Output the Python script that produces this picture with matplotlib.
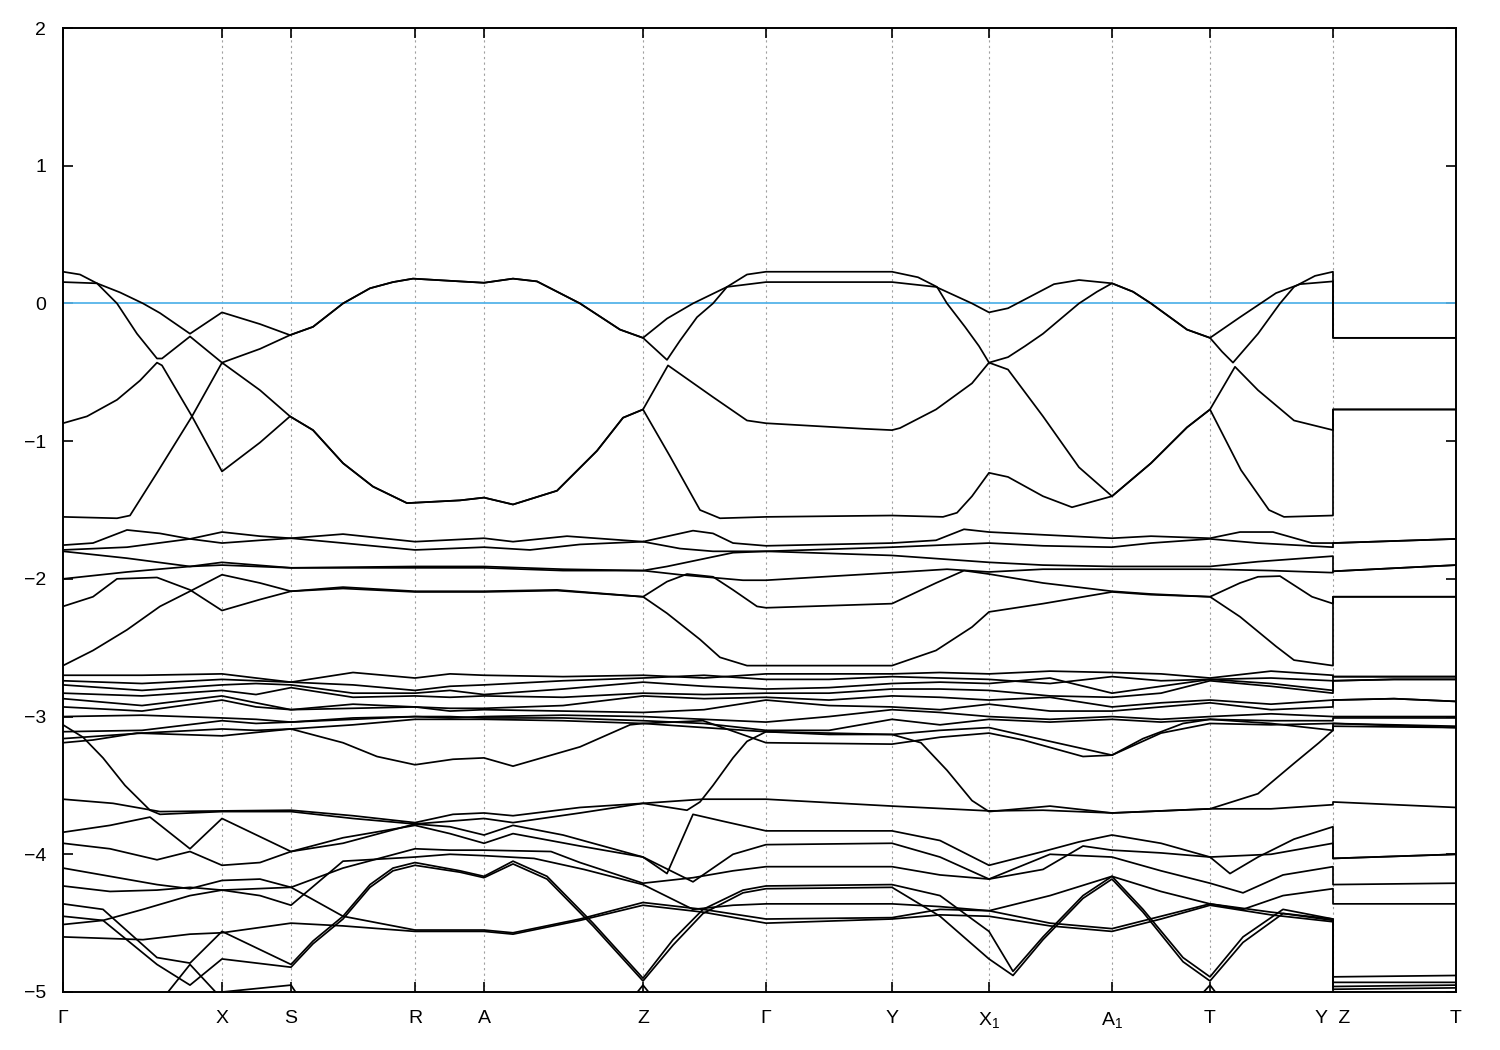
import numpy as np
import matplotlib
matplotlib.use("Agg")
import matplotlib.pyplot as plt

# high-symmetry points (path coordinate) and labels
hsp_k = [0.0, 1.59, 2.28, 3.52, 4.21, 5.80, 7.03, 8.29, 9.26, 10.49, 11.47, 12.70, 13.93]
hsp_labels = ["Γ", "X", "S", "R", "A", "Z", "Γ", "Y", "X$_1$", "A$_1$", "T", "Y  Z", "T"]
e_fermi = 0.0

# ---- upper valence bands (k, E) ----
band_c1 = [(0,0.155),(0.34,0.146),(0.57,0.08),(0.80,0.0),(0.97,-0.07),(1.27,-0.22),(1.59,-0.065),(1.97,-0.15),(2.27,-0.23),
           (2.50,-0.17),(2.80,0.0),(3.07,0.11),(3.30,0.155),(3.50,0.18),(3.97,0.16),(4.21,0.15),(4.50,0.18),(4.74,0.16),(5.17,0.0),
           (5.57,-0.19),(5.80,-0.25),(6.04,-0.11),(6.30,0.0),(6.64,0.12),(7.03,0.155),(8.29,0.155),(8.73,0.12),(9.09,0.0),(9.26,-0.065),
           (9.45,-0.035),(9.91,0.14),(10.16,0.17),(10.49,0.146),(10.70,0.085),(10.88,0.0),(11.24,-0.19),(11.47,-0.25),(11.77,-0.10),
           (12.13,0.075),(12.37,0.14),(12.70,0.16),(12.70,-0.25),(13.93,-0.25)]
band_c2 = [(0,0.23),(0.17,0.21),(0.34,0.146),(0.54,0.0),(0.74,-0.22),(0.94,-0.40),(0.99,-0.40),(1.27,-0.24),(1.59,-0.43),(1.97,-0.63),
           (2.27,-0.82),(2.50,-0.92),(2.80,-1.16),(3.10,-1.33),(3.44,-1.45),(3.97,-1.43),(4.21,-1.41),(4.50,-1.46),(4.94,-1.36),(5.34,-1.07),
           (5.60,-0.83),(5.80,-0.77),(6.05,-0.45),(6.50,-0.68),(6.84,-0.85),(7.03,-0.87),(8.00,-0.91),(8.29,-0.92),(8.37,-0.905),(8.73,-0.77),
           (9.09,-0.58),(9.26,-0.43),(9.45,-0.39),(9.62,-0.31),(9.80,-0.22),(9.98,-0.11),(10.16,0.0),(10.34,0.085),(10.49,0.146),(10.70,0.085),
           (10.88,0.0),(11.24,-0.19),(11.47,-0.25),(11.59,-0.35),(11.70,-0.43),(11.95,-0.22),(12.17,0.0),(12.31,0.12),(12.52,0.20),(12.70,0.23),
           (12.70,-0.25),(13.93,-0.25)]
band_c3 = [(0,-0.87),(0.24,-0.82),(0.54,-0.70),(0.77,-0.56),(0.94,-0.43),(0.99,-0.45),(1.29,-0.82),(1.59,-1.22),(1.97,-1.01),(2.27,-0.82),
           (2.50,-0.92),(2.80,-1.16),(3.10,-1.33),(3.44,-1.45),(3.97,-1.43),(4.21,-1.41),(4.50,-1.46),(4.94,-1.36),(5.34,-1.07),(5.60,-0.83),
           (5.80,-0.77),(6.07,-1.11),(6.37,-1.50),(6.57,-1.56),(7.03,-1.55),(8.29,-1.54),(8.80,-1.55),(8.94,-1.52),(9.09,-1.40),(9.26,-1.23),
           (9.45,-1.26),(9.80,-1.40),(10.09,-1.48),(10.49,-1.40),(10.88,-1.16),(11.24,-0.90),(11.47,-0.77),(11.72,-0.46),(11.95,-0.63),
           (12.31,-0.85),(12.70,-0.92),(12.70,-0.77),(13.93,-0.77)]
band_c4 = [(0,-1.55),(0.54,-1.56),(0.67,-1.54),(0.94,-1.23),(1.29,-0.82),(1.59,-0.43),(1.97,-0.33),(2.27,-0.23),(2.50,-0.17),(2.80,0.0),
           (3.07,0.11),(3.30,0.155),(3.50,0.18),(3.97,0.16),(4.21,0.15),(4.50,0.18),(4.74,0.16),(5.17,0.0),(5.57,-0.19),(5.80,-0.25),
           (6.04,-0.41),(6.17,-0.27),(6.34,-0.10),(6.50,0.0),(6.64,0.12),(6.84,0.21),(7.03,0.23),(8.29,0.23),(8.55,0.19),(8.74,0.12),
           (8.84,0.0),(9.02,-0.17),(9.16,-0.31),(9.26,-0.43),(9.45,-0.48),(9.80,-0.82),(10.16,-1.19),(10.49,-1.40),(10.88,-1.16),
           (11.24,-0.90),(11.47,-0.77),(11.78,-1.21),(12.06,-1.50),(12.21,-1.55),(12.70,-1.54),(12.70,-0.77),(13.93,-0.77)]

# ---- bands between -1.6 and -2.7 ----
band_d1 = [(0,-1.755),(0.30,-1.74),(0.64,-1.645),(0.97,-1.67),(1.27,-1.71),(1.59,-1.74),(1.97,-1.72),(2.28,-1.705),(2.80,-1.675),
           (3.52,-1.73),(4.21,-1.705),(4.50,-1.73),(5.04,-1.69),(5.80,-1.73),(6.30,-1.65),(6.50,-1.67),(6.70,-1.74),(7.03,-1.76),
           (8.29,-1.74),(8.73,-1.72),(9.01,-1.64),(9.26,-1.66),(9.80,-1.68),(10.49,-1.705),(10.88,-1.69),(11.47,-1.705),(11.77,-1.66),
           (12.10,-1.66),(12.49,-1.74),(12.70,-1.74),(12.70,-1.74),(13.93,-1.71)]
band_d2 = [(0,-1.79),(0.64,-1.77),(1.27,-1.71),(1.59,-1.66),(1.97,-1.69),(2.28,-1.705),(2.80,-1.74),(3.52,-1.79),(4.21,-1.77),
           (4.67,-1.79),(5.17,-1.75),(5.80,-1.73),(6.17,-1.78),(6.50,-1.80),(7.03,-1.80),(8.29,-1.77),(9.26,-1.74),(9.80,-1.76),
           (10.49,-1.77),(10.88,-1.74),(11.47,-1.71),(11.95,-1.74),(12.70,-1.77),(12.70,-1.74),(13.93,-1.71)]
band_d3 = [(0,-1.80),(0.64,-1.85),(1.27,-1.91),(1.59,-1.88),(2.28,-1.92),(3.52,-1.91),(4.21,-1.91),(5.00,-1.93),(5.80,-1.94),
           (6.04,-1.91),(6.37,-1.86),(6.70,-1.81),(7.03,-1.80),(8.29,-1.83),(9.26,-1.88),(9.80,-1.90),(10.49,-1.91),(11.47,-1.91),
           (11.95,-1.875),(12.70,-1.835),(12.70,-1.945),(13.93,-1.90)]
band_d4 = [(0,-2.0),(0.64,-1.95),(1.27,-1.91),(1.59,-1.90),(2.28,-1.92),(3.52,-1.92),(4.21,-1.92),(5.00,-1.94),(5.80,-1.94),
           (6.17,-1.97),(6.80,-2.01),(7.03,-2.01),(8.29,-1.955),(8.84,-1.93),(9.26,-1.95),(9.80,-1.93),(10.49,-1.93),(11.47,-1.93),
           (12.08,-1.94),(12.70,-1.955),(12.70,-1.945),(13.93,-1.90)]
band_d5 = [(0,-2.20),(0.30,-2.13),(0.54,-2.0),(0.94,-1.99),(1.27,-2.08),(1.59,-2.23),(1.97,-2.15),(2.28,-2.09),(2.80,-2.06),
           (3.52,-2.09),(4.21,-2.09),(4.94,-2.08),(5.80,-2.13),(6.04,-2.02),(6.24,-1.965),(6.50,-1.985),(6.70,-2.08),(6.94,-2.20),
           (7.03,-2.21),(8.29,-2.18),(8.73,-2.03),(9.01,-1.94),(9.26,-1.965),(9.80,-2.03),(10.49,-2.09),(10.88,-2.11),(11.47,-2.13),
           (11.77,-2.03),(11.95,-1.985),(12.17,-1.98),(12.49,-2.13),(12.70,-2.18),(12.70,-2.13),(13.93,-2.13)]
band_d6 = [(0,-2.63),(0.30,-2.52),(0.64,-2.37),(0.97,-2.20),(1.27,-2.09),(1.59,-1.97),(1.97,-2.03),(2.28,-2.09),(2.80,-2.07),
           (3.52,-2.095),(4.21,-2.095),(4.94,-2.085),(5.80,-2.13),(6.04,-2.25),(6.37,-2.44),(6.57,-2.57),(6.84,-2.63),(7.03,-2.63),
           (8.29,-2.63),(8.73,-2.52),(9.09,-2.35),(9.26,-2.24),(9.80,-2.18),(10.49,-2.095),(10.88,-2.115),(11.47,-2.13),(11.77,-2.275),
           (12.13,-2.49),(12.31,-2.59),(12.70,-2.63),(12.70,-2.13),(13.93,-2.13)]

# ---- dense bands between -2.7 and -3.2 on a common k grid ----
grid_e = [0, 0.79, 1.59, 1.93, 2.28, 2.90, 3.52, 3.87, 4.21, 5.00, 5.80, 6.41, 7.03, 7.66, 8.29, 8.77, 9.26, 9.87, 10.49,
          10.98, 11.47, 12.08, 12.70, 12.70, 13.31, 13.93]
band_e1 = [-2.70,-2.70,-2.69,-2.72,-2.75,-2.68,-2.72,-2.69,-2.70,-2.71,-2.70,-2.72,-2.69,-2.69,-2.69,-2.68,-2.69,-2.67,-2.68,-2.69,-2.72,-2.67,-2.70,-2.71,-2.71,-2.71]
band_e2 = [-2.74,-2.76,-2.73,-2.74,-2.75,-2.77,-2.81,-2.78,-2.77,-2.74,-2.72,-2.70,-2.73,-2.73,-2.71,-2.72,-2.73,-2.76,-2.71,-2.74,-2.73,-2.72,-2.74,-2.71,-2.71,-2.71]
band_e3 = [-2.77,-2.81,-2.77,-2.76,-2.77,-2.83,-2.83,-2.81,-2.84,-2.80,-2.75,-2.78,-2.80,-2.79,-2.76,-2.75,-2.76,-2.72,-2.83,-2.78,-2.73,-2.76,-2.81,-2.74,-2.73,-2.73]
band_e4 = [-2.83,-2.85,-2.81,-2.84,-2.79,-2.86,-2.85,-2.86,-2.85,-2.86,-2.83,-2.84,-2.83,-2.83,-2.80,-2.80,-2.81,-2.85,-2.86,-2.83,-2.74,-2.78,-2.83,-2.74,-2.73,-2.73]
band_e5 = [-2.87,-2.92,-2.85,-2.90,-2.95,-2.91,-2.93,-2.94,-2.94,-2.92,-2.85,-2.87,-2.86,-2.88,-2.85,-2.86,-2.88,-2.86,-2.93,-2.90,-2.88,-2.91,-2.88,-2.88,-2.87,-2.89]
band_e6 = [-2.93,-2.96,-2.88,-2.93,-2.95,-2.94,-2.93,-2.96,-2.95,-2.96,-2.97,-2.95,-2.88,-2.92,-2.93,-2.95,-2.91,-2.96,-2.96,-2.93,-2.90,-2.95,-2.93,-2.88,-2.87,-2.89]
band_e7 = [-3.00,-2.99,-3.01,-3.02,-3.04,-3.02,-3.00,-3.01,-3.00,-2.99,-3.00,-3.02,-3.04,-3.00,-2.95,-2.97,-3.00,-3.02,-3.00,-3.02,-3.00,-2.98,-3.00,-3.00,-3.00,-3.00]
band_e8 = [-3.11,-3.10,-3.03,-3.05,-3.04,-3.01,-3.00,-3.00,-3.01,-3.01,-3.03,-3.05,-3.10,-3.10,-3.02,-3.06,-3.02,-3.04,-3.02,-3.04,-3.02,-3.03,-3.03,-3.01,-3.01,-3.01]
band_e9 = [-3.16,-3.12,-3.09,-3.10,-3.09,-3.06,-3.02,-3.02,-3.02,-3.03,-3.05,-3.08,-3.11,-3.13,-3.13,-3.10,-3.08,-3.18,-3.28,-3.12,-3.05,-3.06,-3.05,-3.05,-3.06,-3.07]
band_e_low = [(0,-3.19),(0.30,-3.17),(0.74,-3.12),(1.59,-3.14),(2.28,-3.09),(2.80,-3.19),(3.14,-3.29),(3.52,-3.35),(3.90,-3.31),
              (4.21,-3.30),(4.50,-3.36),(5.17,-3.22),(5.67,-3.06),(5.80,-3.05),(6.40,-3.03),(7.03,-3.19),(8.29,-3.20),(8.77,-3.15),
              (9.26,-3.12),(9.60,-3.17),(10.20,-3.29),(10.49,-3.28),(10.80,-3.16),(11.20,-3.05),(11.47,-3.02),(12.08,-3.05),
              (12.70,-3.10),(12.70,-3.07),(13.93,-3.08)]

# ---- lower bands (-3.5 to -5) ----
band_f1 = [(0,-3.60),(0.50,-3.63),(0.97,-3.69),(1.59,-3.685),(2.28,-3.68),(2.90,-3.72),(3.52,-3.77),(3.90,-3.71),(4.21,-3.70),
           (4.50,-3.72),(5.17,-3.66),(5.80,-3.63),(6.40,-3.60),(7.03,-3.60),(8.29,-3.65),(9.26,-3.685),(9.80,-3.68),(10.49,-3.70),
           (11.47,-3.67),(12.08,-3.67),(12.70,-3.64),(12.70,-3.62),(13.93,-3.66)]
band_f2 = [(0,-3.06),(0.20,-3.15),(0.40,-3.30),(0.62,-3.50),(0.87,-3.68),(0.97,-3.71),(1.27,-3.70),(1.59,-3.69),(2.28,-3.69),
           (2.90,-3.74),(3.52,-3.78),(4.21,-3.74),(4.50,-3.77),(5.17,-3.70),(5.80,-3.63),(6.24,-3.68),(6.37,-3.62),(6.50,-3.50),
           (6.70,-3.30),(6.84,-3.18),(7.03,-3.11),(8.29,-3.13),(8.58,-3.19),(8.84,-3.39),(9.09,-3.61),(9.26,-3.69),(9.87,-3.65),
           (10.49,-3.70),(11.47,-3.67),(11.95,-3.56),(12.31,-3.34),(12.56,-3.19),(12.70,-3.10),(12.70,-3.05),(13.93,-3.08)]
band_f3 = [(0,-3.84),(0.47,-3.79),(0.87,-3.73),(1.27,-3.96),(1.59,-3.74),(2.28,-3.98),(2.80,-3.92),(3.52,-3.78),(3.87,-3.80),
           (4.21,-3.86),(4.50,-3.79),(5.00,-3.86),(5.80,-4.02),(6.04,-4.14),(6.30,-3.71),(6.60,-3.76),(7.03,-3.83),(8.29,-3.83),
           (8.77,-3.90),(9.26,-4.08),(9.80,-3.98),(10.16,-3.91),(10.49,-3.86),(10.98,-3.92),(11.47,-4.02),(11.67,-4.14),(11.95,-4.02),
           (12.31,-3.89),(12.70,-3.80),(12.70,-4.03),(13.93,-4.00)]
band_f4 = [(0,-3.92),(0.47,-3.96),(0.94,-4.04),(1.27,-3.98),(1.59,-4.08),(1.97,-4.06),(2.28,-3.98),(2.80,-3.88),(3.52,-3.79),
           (3.87,-3.85),(4.21,-3.92),(4.50,-3.85),(5.17,-3.94),(5.80,-4.02),(6.30,-4.20),(6.70,-4.00),(7.03,-3.93),(8.29,-3.92),
           (8.77,-4.02),(9.26,-4.18),(9.80,-4.11),(10.20,-3.94),(10.49,-3.97),(10.98,-3.99),(11.47,-4.02),(12.08,-4.00),(12.70,-3.92),
           (12.70,-4.03),(13.93,-4.00)]
band_f5 = [(0,-4.10),(0.47,-4.16),(0.94,-4.22),(1.27,-4.25),(1.59,-4.19),(1.97,-4.18),(2.28,-4.24),(2.80,-4.10),(3.52,-3.96),
           (3.87,-3.97),(4.21,-3.97),(4.88,-3.98),(5.17,-4.06),(5.80,-4.21),(6.30,-4.17),(6.70,-4.12),(7.03,-4.09),(8.29,-4.09),
           (8.77,-4.15),(9.26,-4.18),(9.87,-4.00),(10.49,-4.02),(10.98,-4.12),(11.47,-4.21),(11.80,-4.28),(12.20,-4.15),(12.70,-4.09),
           (12.70,-4.22),(13.93,-4.21)]
band_f6 = [(0,-4.23),(0.47,-4.27),(0.94,-4.26),(1.27,-4.24),(1.59,-4.26),(1.97,-4.30),(2.28,-4.37),(2.80,-4.05),(3.52,-4.02),
           (3.87,-4.00),(4.21,-4.01),(4.71,-4.03),(5.21,-4.11),(5.80,-4.22),(6.30,-4.40),(6.70,-4.37),(7.03,-4.36),(8.29,-4.36),
           (8.77,-4.38),(9.26,-4.41),(9.87,-4.30),(10.49,-4.16),(10.98,-4.27),(11.47,-4.36),(11.80,-4.40),(12.20,-4.30),(12.70,-4.25),
           (12.70,-4.36),(13.93,-4.36)]
band_f7 = [(0,-4.36),(0.40,-4.40),(0.94,-4.75),(1.27,-4.79),(1.59,-4.56),(2.28,-4.80),(2.50,-4.63),(2.80,-4.45),(3.07,-4.22),
           (3.30,-4.10),(3.52,-4.06),(3.97,-4.12),(4.21,-4.16),(4.50,-4.05),(4.84,-4.16),(5.30,-4.50),(5.80,-4.90),(6.10,-4.62),
           (6.40,-4.40),(6.80,-4.26),(7.03,-4.23),(8.29,-4.22),(8.77,-4.30),(9.26,-4.56),(9.50,-4.85),(9.80,-4.60),(10.20,-4.30),
           (10.49,-4.16),(10.80,-4.40),(11.20,-4.75),(11.47,-4.89),(11.80,-4.60),(12.20,-4.40),(12.70,-4.47),(12.70,-4.89),(13.93,-4.88)]
band_f8 = [(0,-4.45),(0.40,-4.48),(0.94,-4.80),(1.27,-4.95),(1.59,-4.76),(2.28,-4.82),(2.50,-4.65),(2.80,-4.47),(3.07,-4.24),
           (3.30,-4.12),(3.52,-4.08),(3.97,-4.13),(4.21,-4.17),(4.50,-4.07),(4.84,-4.18),(5.30,-4.52),(5.80,-4.92),(6.10,-4.66),
           (6.40,-4.43),(6.80,-4.28),(7.03,-4.25),(8.29,-4.24),(8.77,-4.45),(9.26,-4.76),(9.50,-4.88),(9.80,-4.62),(10.20,-4.32),
           (10.49,-4.18),(10.80,-4.42),(11.20,-4.78),(11.47,-4.92),(11.80,-4.64),(12.20,-4.43),(12.70,-4.48),(12.70,-4.93),(13.93,-4.93)]
band_f9 = [(0,-4.51),(0.40,-4.48),(0.80,-4.40),(1.27,-4.30),(1.59,-4.26),(2.28,-4.24),(2.80,-4.45),(3.52,-4.55),(4.21,-4.55),
           (4.50,-4.57),(5.17,-4.47),(5.80,-4.35),(6.40,-4.40),(7.03,-4.47),(8.29,-4.46),(8.77,-4.40),(9.26,-4.41),(9.87,-4.50),
           (10.49,-4.54),(10.98,-4.45),(11.47,-4.36),(12.08,-4.42),(12.70,-4.47),(12.70,-4.96),(13.93,-4.95)]
band_f10 = [(0,-4.60),(0.80,-4.62),(1.27,-4.58),(1.59,-4.57),(2.28,-4.50),(2.80,-4.52),(3.52,-4.56),(4.21,-4.56),(4.50,-4.58),
            (5.17,-4.48),(5.80,-4.37),(6.40,-4.42),(7.03,-4.50),(8.29,-4.47),(8.77,-4.44),(9.26,-4.45),(9.87,-4.52),(10.49,-4.56),
            (10.98,-4.47),(11.47,-4.37),(12.08,-4.44),(12.70,-4.49),(12.70,-4.98),(13.93,-4.97)]
band_g1 = [(0,-5.40),(0.94,-5.10),(1.27,-4.80),(1.59,-5.05),(2.00,-5.30),(2.28,-5.40),(5.30,-5.40),(5.80,-4.95),(6.30,-5.40),
           (10.90,-5.40),(11.47,-4.95),(11.95,-5.40),(12.70,-5.50),(12.70,-5.50),(13.93,-5.50)]
band_g2 = [(0,-5.50),(0.80,-5.30),(1.59,-5.00),(2.28,-4.95),(2.60,-5.30),(5.50,-5.30),(5.80,-5.00),(6.10,-5.30),(11.20,-5.30),
           (11.47,-5.00),(11.75,-5.30),(12.70,-5.50),(12.70,-5.50),(13.93,-5.50)]

upper_bands = [band_c1, band_c2, band_c3, band_c4,
               band_d1, band_d2, band_d3, band_d4, band_d5, band_d6,
               band_e_low, band_f1, band_f2, band_f3, band_f4, band_f5, band_f6,
               band_f7, band_f8, band_f9, band_f10, band_g1, band_g2]
grid_bands = [band_e1, band_e2, band_e3, band_e4, band_e5, band_e6, band_e7, band_e8, band_e9]

plt.rcParams['font.family'] = ['Liberation Sans', 'DejaVu Sans']
plt.rcParams['mathtext.fontset'] = 'custom'
plt.rcParams['mathtext.rm'] = 'Liberation Sans'
plt.rcParams['mathtext.it'] = 'Liberation Sans'

fig = plt.figure(figsize=(15, 10.5), dpi=100)
ax = fig.add_axes([63/1500, 1-992/1050, (1456-63)/1500, (992-28)/1050])

for kx in hsp_k[1:-1]:
    ax.axvline(kx, color='#a0a0a0', lw=0.8, ls=(0, (2, 3)), zorder=1)

ax.axhline(e_fermi, color='#56b4e9', lw=1.3, zorder=2)

for b in upper_bands:
    arr = np.array(b)
    ax.plot(arr[:, 0], arr[:, 1], color='black', lw=1.25, zorder=3)
for b in grid_bands:
    ax.plot(grid_e, b, color='black', lw=1.25, zorder=3)

ax.set_xlim(hsp_k[0], hsp_k[-1])
ax.set_ylim(-5, 2)
ax.set_xticks(hsp_k)
ax.set_xticklabels(hsp_labels)
ax.set_yticks(range(-5, 3))
ax.tick_params(direction='in', length=7, width=1.2, labelsize=14, top=True, right=True)
ax.tick_params(axis='x', pad=13)
ax.tick_params(axis='y', pad=12)
for s in ax.spines.values():
    s.set_linewidth(1.4)

fig.savefig("out.png", dpi=100)
